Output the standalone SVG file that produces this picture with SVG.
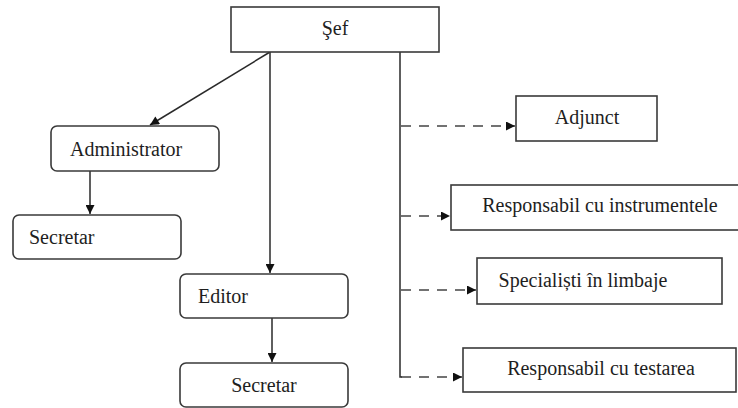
<svg xmlns="http://www.w3.org/2000/svg" width="738" height="408" viewBox="0 0 738 408">
<defs>
<style>
.box{fill:#fff;stroke:#3a3a3a;stroke-width:1.6}
.t{font-family:'Liberation Serif','Tinos','Times New Roman','DejaVu Serif',serif;font-size:20px;fill:#1e1e1e}
.c{text-anchor:middle}
.ln{fill:none;stroke:#2a2a2a;stroke-width:1.5}
.dl{fill:none;stroke:#444;stroke-width:1.5;stroke-dasharray:10 8}
</style>
<marker id="ah" viewBox="0 0 10 10" refX="10" refY="5" markerWidth="10" markerHeight="9" markerUnits="userSpaceOnUse" orient="auto">
<path d="M0,0 L10,5 L0,10 z" fill="#111"/>
</marker>
</defs>
<rect width="738" height="408" fill="#fff"/>
<g id="connectors">
<line class="ln" x1="270" y1="52" x2="150" y2="125" marker-end="url(#ah)"/>
<line class="ln" x1="270" y1="52" x2="270" y2="273" marker-end="url(#ah)"/>
<line class="ln" x1="90" y1="171" x2="90" y2="214" marker-end="url(#ah)"/>
<line class="ln" x1="272" y1="318" x2="272" y2="362" marker-end="url(#ah)"/>
<polyline class="ln" points="400,52 400,377 402,377"/>
<line class="dl" x1="401" y1="126" x2="515" y2="126" marker-end="url(#ah)"/>
<line class="dl" x1="401" y1="216" x2="450" y2="216" marker-end="url(#ah)"/>
<line class="dl" x1="401" y1="290" x2="476" y2="290" marker-end="url(#ah)"/>
<line class="dl" x1="401" y1="377" x2="462" y2="377" marker-end="url(#ah)"/>
</g>
<g id="sef"><rect class="box" x="231" y="7" width="208" height="45"/><text class="t c" x="335" y="35" font-family="Liberation Serif, serif">Şef</text></g>
<g id="administrator"><rect class="box" x="51" y="126" width="168" height="45" rx="6"/><text class="t" x="70" y="156">Administrator</text></g>
<g id="secretar1"><rect class="box" x="13" y="215" width="168" height="44" rx="6"/><text class="t" x="29" y="244">Secretar</text></g>
<g id="editor"><rect class="box" x="180" y="274" width="168" height="44" rx="6"/><text class="t" x="198" y="303">Editor</text></g>
<g id="secretar2"><rect class="box" x="180" y="363" width="168" height="44" rx="6"/><text class="t c" x="264" y="392">Secretar</text></g>
<g id="adjunct"><rect class="box" x="516" y="96" width="141" height="45"/><text class="t c" x="587" y="124">Adjunct</text></g>
<g id="resp-instrumente"><rect class="box" x="451" y="185" width="300" height="45"/><text class="t c" x="600" y="212">Responsabil cu instrumentele</text></g>
<g id="specialisti"><rect class="box" x="477" y="258" width="245" height="46"/><text class="t c" x="583" y="287">Specialiști în limbaje</text></g>
<g id="resp-testare"><rect class="box" x="463" y="348" width="273" height="44"/><text class="t c" x="601" y="375">Responsabil cu testarea</text></g>
</svg>
